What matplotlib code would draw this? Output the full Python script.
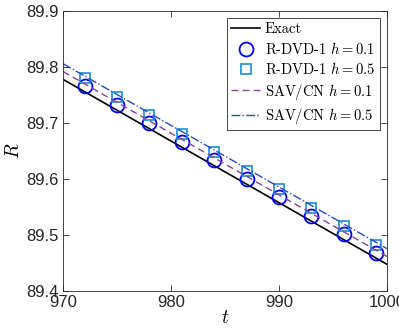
import matplotlib
matplotlib.use("Agg")
import matplotlib.pyplot as plt

plt.rcParams['mathtext.fontset'] = 'cm'
plt.rcParams['font.family'] = ['Liberation Sans', 'DejaVu Sans']

t_line = [970, 1000]
R_exact = [89.778, 89.448]
R_sav01 = [89.792, 89.462]
R_sav05 = [89.806, 89.476]

t_mark = [972, 975, 978, 981, 984, 987, 990, 993, 996, 999]
R_dvd01 = [89.766, 89.733, 89.700, 89.667, 89.634, 89.601, 89.568, 89.535, 89.502, 89.469]
R_dvd05 = [89.780, 89.747, 89.714, 89.681, 89.648, 89.615, 89.582, 89.549, 89.516, 89.483]

xticks = [970, 980, 990, 1000]
yticks = [89.4, 89.5, 89.6, 89.7, 89.8, 89.9]

fig = plt.figure(figsize=(3.99, 3.34), dpi=100)
ax = fig.add_axes([0.158, 0.128, 0.812, 0.839])

ax.plot(t_line, R_exact, color='black', lw=1.2, label='Exact')
ax.plot(t_mark, R_dvd01, 'o', mfc='none', mec=(0, 0, 1), ms=10, mew=1.3, label=r'R-DVD-1 $h=0.1$')
ax.plot(t_mark, R_dvd05, 's', mfc='none', mec=(0.1, 0.55, 0.85), ms=7.5, mew=1.2, label=r'R-DVD-1 $h=0.5$')
ax.plot(t_line, R_sav01, '--', color=(0.55, 0.25, 0.6), lw=1.0, dashes=(5, 3), label=r'SAV/CN $h=0.1$')
ax.plot(t_line, R_sav05, '-.', color=(0.15, 0.3, 0.75), lw=1.0, label=r'SAV/CN $h=0.5$')

ax.set_xlim(970, 1000)
ax.set_ylim(89.4, 89.9)
ax.set_xticks(xticks)
ax.set_yticks(yticks)
ax.set_xticklabels([str(v) for v in xticks])
ax.set_yticklabels([f'{v:.1f}' for v in yticks])
ax.tick_params(direction='in', top=True, right=True, labelsize=12, colors='#262626', length=4, width=0.6, pad=3)
for s in ax.spines.values():
    s.set_color('#262626')
    s.set_linewidth(0.6)
ax.set_xlabel(r'$t$', fontsize=14, labelpad=0)
ax.set_ylabel(r'$R$', fontsize=14, labelpad=2.5)

leg = ax.legend(loc='upper right', prop={'family': 'cmr10', 'size': 10.5}, frameon=True,
                fancybox=False, edgecolor='#262626', handlelength=2.0, handletextpad=0.3,
                labelspacing=0.3, borderpad=0.3, borderaxespad=0.5, framealpha=1)
leg.get_frame().set_linewidth(0.6)

fig.savefig('out.png', dpi=100)
